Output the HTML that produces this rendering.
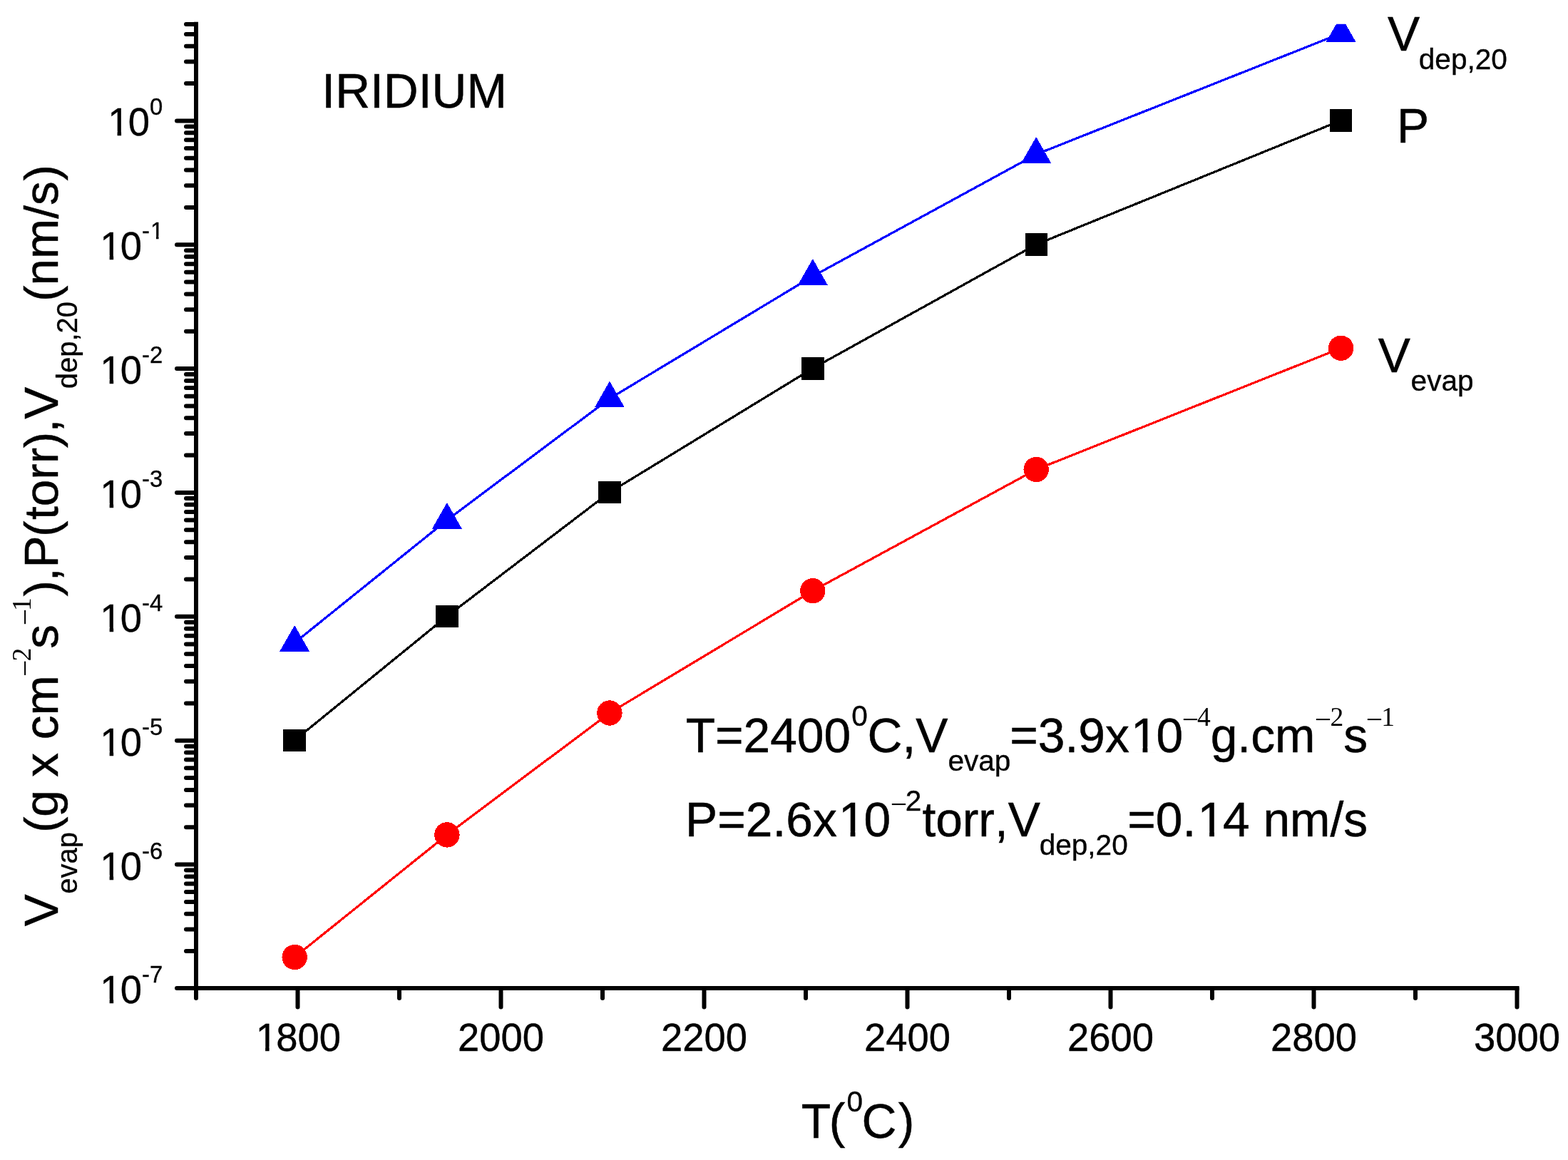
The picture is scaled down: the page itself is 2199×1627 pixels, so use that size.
<!DOCTYPE html><html><head><meta charset="utf-8"><title>Iridium</title><style>html,body{margin:0;padding:0;background:#fff;overflow:hidden}svg{display:block}text{font-family:"Liberation Sans",Arial,sans-serif;fill:#000;font-kerning:none;white-space:pre}.se{font-family:"Liberation Serif","Times New Roman",serif}.b{stroke:#000;stroke-width:0.5px}.m{stroke:#000;stroke-width:0.35px}.t{stroke:#000;stroke-width:0.4px}.t tspan{stroke-width:0.3px}</style></head><body>
<svg width="2199" height="1627" viewBox="0 0 2199 1627">
<rect width="2199" height="1627" fill="#fff"/>
<defs><clipPath id="c"><rect x="275.0" y="33.7" width="1875.5" height="1352.3"/></clipPath></defs>
<g clip-path="url(#c)" shape-rendering="crispEdges">
<polyline points="413.2,901.5 626.9,729.5 854.9,559.1 1139.8,387.5 1453.2,216.5 1880.6,46.8" fill="none" stroke="#0000ff" stroke-width="3.2"/>
<polygon points="392.2,913.8 434.2,913.8 413.2,877.0" fill="#0000ff"/>
<polygon points="605.9,741.8 647.9,741.8 626.9,705.0" fill="#0000ff"/>
<polygon points="833.9,571.4 875.9,571.4 854.9,534.6" fill="#0000ff"/>
<polygon points="1118.8,399.8 1160.8,399.8 1139.8,363.0" fill="#0000ff"/>
<polygon points="1432.2,228.8 1474.2,228.8 1453.2,192.0" fill="#0000ff"/>
<polygon points="1859.6,59.1 1901.6,59.1 1880.6,22.3" fill="#0000ff"/>
<polyline points="413.2,1038.3 626.9,864.4 854.9,690.6 1139.8,516.7 1453.2,342.9 1880.6,169.0" fill="none" stroke="#000" stroke-width="3.2"/>
<rect x="397.4" y="1022.6" width="31.5" height="31.5" fill="#000"/>
<rect x="611.2" y="848.7" width="31.5" height="31.5" fill="#000"/>
<rect x="839.1" y="674.8" width="31.5" height="31.5" fill="#000"/>
<rect x="1124.0" y="501.0" width="31.5" height="31.5" fill="#000"/>
<rect x="1437.5" y="327.1" width="31.5" height="31.5" fill="#000"/>
<rect x="1864.9" y="153.2" width="31.5" height="31.5" fill="#000"/>
<polyline points="413.2,1342.5 626.9,1170.9 854.9,1000.0 1139.8,828.7 1453.2,658.5 1880.6,488.3" fill="none" stroke="#ff0000" stroke-width="3.2"/>
<circle cx="413.2" cy="1342.5" r="17.7" fill="#ff0000"/>
<circle cx="626.9" cy="1170.9" r="17.7" fill="#ff0000"/>
<circle cx="854.9" cy="1000.0" r="17.7" fill="#ff0000"/>
<circle cx="1139.8" cy="828.7" r="17.7" fill="#ff0000"/>
<circle cx="1453.2" cy="658.5" r="17.7" fill="#ff0000"/>
<circle cx="1880.6" cy="488.3" r="17.7" fill="#ff0000"/>
</g>
<g stroke="#000" stroke-width="6" stroke-linecap="butt" fill="none">
<line x1="275.0" y1="30.8" x2="275.0" y2="1389.0"/>
<line x1="272.0" y1="1386.0" x2="2130.5" y2="1386.0"/>
</g>
<g stroke="#000" stroke-width="6" stroke-linecap="round">
<line x1="248" y1="1386.0" x2="275.0" y2="1386.0"/>
<line x1="261" y1="1334.1" x2="275.0" y2="1334.1"/>
<line x1="261" y1="1303.5" x2="275.0" y2="1303.5"/>
<line x1="261" y1="1281.7" x2="275.0" y2="1281.7"/>
<line x1="261" y1="1264.9" x2="275.0" y2="1264.9"/>
<line x1="261" y1="1251.1" x2="275.0" y2="1251.1"/>
<line x1="261" y1="1239.5" x2="275.0" y2="1239.5"/>
<line x1="261" y1="1229.4" x2="275.0" y2="1229.4"/>
<line x1="261" y1="1220.5" x2="275.0" y2="1220.5"/>
<line x1="248" y1="1212.6" x2="275.0" y2="1212.6"/>
<line x1="261" y1="1160.2" x2="275.0" y2="1160.2"/>
<line x1="261" y1="1129.6" x2="275.0" y2="1129.6"/>
<line x1="261" y1="1107.9" x2="275.0" y2="1107.9"/>
<line x1="261" y1="1091.0" x2="275.0" y2="1091.0"/>
<line x1="261" y1="1077.3" x2="275.0" y2="1077.3"/>
<line x1="261" y1="1065.6" x2="275.0" y2="1065.6"/>
<line x1="261" y1="1055.5" x2="275.0" y2="1055.5"/>
<line x1="261" y1="1046.7" x2="275.0" y2="1046.7"/>
<line x1="248" y1="1038.7" x2="275.0" y2="1038.7"/>
<line x1="261" y1="986.4" x2="275.0" y2="986.4"/>
<line x1="261" y1="955.7" x2="275.0" y2="955.7"/>
<line x1="261" y1="934.0" x2="275.0" y2="934.0"/>
<line x1="261" y1="917.2" x2="275.0" y2="917.2"/>
<line x1="261" y1="903.4" x2="275.0" y2="903.4"/>
<line x1="261" y1="891.8" x2="275.0" y2="891.8"/>
<line x1="261" y1="881.7" x2="275.0" y2="881.7"/>
<line x1="261" y1="872.8" x2="275.0" y2="872.8"/>
<line x1="248" y1="864.8" x2="275.0" y2="864.8"/>
<line x1="261" y1="812.5" x2="275.0" y2="812.5"/>
<line x1="261" y1="781.9" x2="275.0" y2="781.9"/>
<line x1="261" y1="760.2" x2="275.0" y2="760.2"/>
<line x1="261" y1="743.3" x2="275.0" y2="743.3"/>
<line x1="261" y1="729.6" x2="275.0" y2="729.6"/>
<line x1="261" y1="717.9" x2="275.0" y2="717.9"/>
<line x1="261" y1="707.8" x2="275.0" y2="707.8"/>
<line x1="261" y1="698.9" x2="275.0" y2="698.9"/>
<line x1="248" y1="691.0" x2="275.0" y2="691.0"/>
<line x1="261" y1="638.6" x2="275.0" y2="638.6"/>
<line x1="261" y1="608.0" x2="275.0" y2="608.0"/>
<line x1="261" y1="586.3" x2="275.0" y2="586.3"/>
<line x1="261" y1="569.5" x2="275.0" y2="569.5"/>
<line x1="261" y1="555.7" x2="275.0" y2="555.7"/>
<line x1="261" y1="544.1" x2="275.0" y2="544.1"/>
<line x1="261" y1="534.0" x2="275.0" y2="534.0"/>
<line x1="261" y1="525.1" x2="275.0" y2="525.1"/>
<line x1="248" y1="517.1" x2="275.0" y2="517.1"/>
<line x1="261" y1="464.8" x2="275.0" y2="464.8"/>
<line x1="261" y1="434.2" x2="275.0" y2="434.2"/>
<line x1="261" y1="412.4" x2="275.0" y2="412.4"/>
<line x1="261" y1="395.6" x2="275.0" y2="395.6"/>
<line x1="261" y1="381.8" x2="275.0" y2="381.8"/>
<line x1="261" y1="370.2" x2="275.0" y2="370.2"/>
<line x1="261" y1="360.1" x2="275.0" y2="360.1"/>
<line x1="261" y1="351.2" x2="275.0" y2="351.2"/>
<line x1="248" y1="343.3" x2="275.0" y2="343.3"/>
<line x1="261" y1="290.9" x2="275.0" y2="290.9"/>
<line x1="261" y1="260.3" x2="275.0" y2="260.3"/>
<line x1="261" y1="238.6" x2="275.0" y2="238.6"/>
<line x1="261" y1="221.7" x2="275.0" y2="221.7"/>
<line x1="261" y1="208.0" x2="275.0" y2="208.0"/>
<line x1="261" y1="196.3" x2="275.0" y2="196.3"/>
<line x1="261" y1="186.2" x2="275.0" y2="186.2"/>
<line x1="261" y1="177.4" x2="275.0" y2="177.4"/>
<line x1="248" y1="169.4" x2="275.0" y2="169.4"/>
<line x1="261" y1="117.1" x2="275.0" y2="117.1"/>
<line x1="261" y1="86.4" x2="275.0" y2="86.4"/>
<line x1="261" y1="64.7" x2="275.0" y2="64.7"/>
<line x1="261" y1="47.9" x2="275.0" y2="47.9"/>
<line x1="261" y1="34.1" x2="275.0" y2="34.1"/>
<line x1="275.0" y1="1386.0" x2="275.0" y2="1400"/>
<line x1="417.5" y1="1386.0" x2="417.5" y2="1412.5"/>
<line x1="560.0" y1="1386.0" x2="560.0" y2="1400"/>
<line x1="702.5" y1="1386.0" x2="702.5" y2="1412.5"/>
<line x1="845.0" y1="1386.0" x2="845.0" y2="1400"/>
<line x1="987.5" y1="1386.0" x2="987.5" y2="1412.5"/>
<line x1="1130.0" y1="1386.0" x2="1130.0" y2="1400"/>
<line x1="1272.5" y1="1386.0" x2="1272.5" y2="1412.5"/>
<line x1="1415.0" y1="1386.0" x2="1415.0" y2="1400"/>
<line x1="1557.5" y1="1386.0" x2="1557.5" y2="1412.5"/>
<line x1="1700.0" y1="1386.0" x2="1700.0" y2="1400"/>
<line x1="1842.5" y1="1386.0" x2="1842.5" y2="1412.5"/>
<line x1="1985.0" y1="1386.0" x2="1985.0" y2="1400"/>
<line x1="2127.5" y1="1386.0" x2="2127.5" y2="1412.5"/>
</g>
<g transform="translate(356.99,1474.4) scale(1,1.03)"><text font-size="54.4" class="t" dx="1.78 -1.78 0.00 0.00">1800</text><rect x="4.92" y="-6.06" width="10.19" height="7.46" fill="#fff"/><rect x="20.62" y="-6.06" width="9.76" height="7.46" fill="#fff"/></g>
<g transform="translate(641.99,1474.4) scale(1,1.03)"><text font-size="54.4" class="t">2000</text></g>
<g transform="translate(926.99,1474.4) scale(1,1.03)"><text font-size="54.4" class="t">2200</text></g>
<g transform="translate(1211.99,1474.4) scale(1,1.03)"><text font-size="54.4" class="t">2400</text></g>
<g transform="translate(1496.99,1474.4) scale(1,1.03)"><text font-size="54.4" class="t">2600</text></g>
<g transform="translate(1781.99,1474.4) scale(1,1.03)"><text font-size="54.4" class="t">2800</text></g>
<g transform="translate(2066.99,1474.4) scale(1,1.03)"><text font-size="54.4" class="t">3000</text></g>
<g transform="translate(138.53,1407.42) scale(1,1.03)"><text font-size="54.4" class="t" dx="1.78 -1.78">10</text><rect x="4.92" y="-6.06" width="10.19" height="7.46" fill="#fff"/><rect x="20.62" y="-6.06" width="9.76" height="7.46" fill="#fff"/></g>
<g transform="translate(199.04,1378.42) scale(1,1.03)"><text font-size="32.8" class="m">-7</text></g>
<g transform="translate(138.53,1233.56) scale(1,1.03)"><text font-size="54.4" class="t" dx="1.78 -1.78">10</text><rect x="4.92" y="-6.06" width="10.19" height="7.46" fill="#fff"/><rect x="20.62" y="-6.06" width="9.76" height="7.46" fill="#fff"/></g>
<g transform="translate(199.04,1204.56) scale(1,1.03)"><text font-size="32.8" class="m">-6</text></g>
<g transform="translate(138.53,1059.70) scale(1,1.03)"><text font-size="54.4" class="t" dx="1.78 -1.78">10</text><rect x="4.92" y="-6.06" width="10.19" height="7.46" fill="#fff"/><rect x="20.62" y="-6.06" width="9.76" height="7.46" fill="#fff"/></g>
<g transform="translate(199.04,1030.70) scale(1,1.03)"><text font-size="32.8" class="m">-5</text></g>
<g transform="translate(138.53,885.84) scale(1,1.03)"><text font-size="54.4" class="t" dx="1.78 -1.78">10</text><rect x="4.92" y="-6.06" width="10.19" height="7.46" fill="#fff"/><rect x="20.62" y="-6.06" width="9.76" height="7.46" fill="#fff"/></g>
<g transform="translate(199.04,856.84) scale(1,1.03)"><text font-size="32.8" class="m">-4</text></g>
<g transform="translate(138.53,711.98) scale(1,1.03)"><text font-size="54.4" class="t" dx="1.78 -1.78">10</text><rect x="4.92" y="-6.06" width="10.19" height="7.46" fill="#fff"/><rect x="20.62" y="-6.06" width="9.76" height="7.46" fill="#fff"/></g>
<g transform="translate(199.04,682.98) scale(1,1.03)"><text font-size="32.8" class="m">-3</text></g>
<g transform="translate(138.53,538.12) scale(1,1.03)"><text font-size="54.4" class="t" dx="1.78 -1.78">10</text><rect x="4.92" y="-6.06" width="10.19" height="7.46" fill="#fff"/><rect x="20.62" y="-6.06" width="9.76" height="7.46" fill="#fff"/></g>
<g transform="translate(199.04,509.12) scale(1,1.03)"><text font-size="32.8" class="m">-2</text></g>
<g transform="translate(138.53,364.26) scale(1,1.03)"><text font-size="54.4" class="t" dx="1.78 -1.78">10</text><rect x="4.92" y="-6.06" width="10.19" height="7.46" fill="#fff"/><rect x="20.62" y="-6.06" width="9.76" height="7.46" fill="#fff"/></g>
<g transform="translate(199.04,335.26) scale(1,1.03)"><text font-size="32.8" class="m" dx="0.00 1.07">-1</text><rect x="13.52" y="-4.43" width="6.40" height="5.80" fill="#fff"/><rect x="23.47" y="-4.43" width="6.14" height="5.80" fill="#fff"/></g>
<g transform="translate(149.45,190.40) scale(1,1.03)"><text font-size="54.4" class="t" dx="1.78 -1.78">10</text><rect x="4.92" y="-6.06" width="10.19" height="7.46" fill="#fff"/><rect x="20.62" y="-6.06" width="9.76" height="7.46" fill="#fff"/></g>
<g transform="translate(209.96,161.40) scale(1,1.03)"><text font-size="32.8" class="m">0</text></g>
<text x="1123.74" y="1595.70" font-size="67.7" class="b">T</text>
<text x="1162.83" y="1595.70" font-size="67.7" class="b">(</text>
<text x="1187.46" y="1558.50" font-size="40.6" class="m">0</text>
<text x="1208.62" y="1595.70" font-size="67.7" class="b">C</text>
<text x="1259.78" y="1595.70" font-size="67.7" class="b">)</text>
<text x="451.36" y="151.30" font-size="67.7" class="b">IRIDIUM</text>
<text x="1945.97" y="71.00" font-size="67.7" class="b">V</text>
<text x="1989.80" y="96.80" font-size="40.6" class="m">dep,20</text>
<text x="1959.03" y="200.30" font-size="67.7" class="b">P</text>
<text x="1932.82" y="521.60" font-size="67.7" class="b">V</text>
<text x="1978.62" y="547.60" font-size="40.6" class="m">evap</text>
<text x="961.69" y="1054.50" font-size="67.7" class="b">T=2400</text>
<text x="1194.21" y="1017.60" font-size="40.6" class="m">0</text>
<text x="1216.50" y="1054.50" font-size="67.7" class="b">C,V</text>
<text x="1329.42" y="1080.50" font-size="40.6" class="m">evap</text>
<g transform="translate(1416.22,1054.50)"><text font-size="67.7" class="b" dx="0.00 0.00 0.00 0.00 0.00 2.21 -2.21">=3.9x10</text><rect x="173.82" y="-7.11" width="12.52" height="8.56" fill="#fff"/><rect x="193.12" y="-7.11" width="11.99" height="8.56" fill="#fff"/></g>
<text x="1657.78" y="1022.70" font-size="41.5" class="se">−</text>
<text x="1678.95" y="1017.60" font-size="37.5" class="se">4</text>
<text x="1697.71" y="1054.50" font-size="67.7" class="b">g.cm</text>
<text x="1843.78" y="1022.70" font-size="41.5" class="se">−</text>
<text x="1865.59" y="1017.60" font-size="37.5" class="se">2</text>
<text x="1884.21" y="1054.50" font-size="67.7" class="b">s</text>
<text x="1915.78" y="1022.70" font-size="41.5" class="se">−</text>
<text x="1937.25" y="1017.60" font-size="37.5" class="se">1</text>
<g transform="translate(961.12,1173.40)"><text font-size="67.7" class="b" dx="0.00 0.00 0.00 0.00 0.00 0.00 2.21 -2.21">P=2.6x10</text><rect x="218.98" y="-7.11" width="12.52" height="8.56" fill="#fff"/><rect x="238.28" y="-7.11" width="11.99" height="8.56" fill="#fff"/></g>
<text x="1248.78" y="1141.70" font-size="41.5" class="se">−</text>
<text x="1269.71" y="1136.60" font-size="40.6" class="m">2</text>
<text x="1293.38" y="1173.40" font-size="67.7" class="b">torr,V</text>
<text x="1457.65" y="1199.40" font-size="40.6" class="m">dep,20</text>
<g transform="translate(1581.31,1173.40)"><text font-size="67.7" class="b" dx="0.00 0.00 0.00 2.21 -2.21 0.00 0.00 0.00 0.00 0.00">=0.14 nm/s</text><rect x="102.32" y="-7.11" width="12.52" height="8.56" fill="#fff"/><rect x="121.62" y="-7.11" width="11.99" height="8.56" fill="#fff"/></g>
<text transform="translate(80.50,1299.18) rotate(-90)" font-size="67.4" class="b">V</text>
<text transform="translate(107.80,1253.73) rotate(-90)" font-size="40.0" class="m">evap</text>
<text transform="translate(80.50,1167.91) rotate(-90)" font-size="67.4" class="b">(</text>
<text transform="translate(80.50,1145.83) rotate(-90)" font-size="67.4" class="b">g x cm</text>
<text transform="translate(48.50,948.97) rotate(-90)" font-size="41.5" class="se">−</text>
<text transform="translate(43.40,927.51) rotate(-90)" font-size="37.5" class="se">2</text>
<text transform="translate(80.50,909.87) rotate(-90)" font-size="67.4" class="b">s</text>
<text transform="translate(48.50,877.27) rotate(-90)" font-size="41.5" class="se">−</text>
<text transform="translate(43.40,857.05) rotate(-90)" font-size="37.5" class="se">1</text>
<text transform="translate(80.50,836.58) rotate(-90)" font-size="67.4" class="b">)</text>
<text transform="translate(80.50,815.14) rotate(-90)" font-size="67.4" class="b">,P</text>
<text transform="translate(80.50,753.06) rotate(-90)" font-size="67.4" class="b">(</text>
<text transform="translate(80.50,728.95) rotate(-90)" font-size="67.4" class="b">torr</text>
<text transform="translate(80.50,628.28) rotate(-90)" font-size="67.4" class="b">)</text>
<text transform="translate(80.50,606.42) rotate(-90)" font-size="67.4" class="b">,V</text>
<text transform="translate(107.80,545.28) rotate(-90)" font-size="40.0" class="m">dep,20</text>
<text transform="translate(80.50,423.06) rotate(-90)" font-size="67.4" class="b">(</text>
<text transform="translate(80.50,400.45) rotate(-90)" font-size="67.4" class="b">nm/s</text>
<text transform="translate(80.50,253.43) rotate(-90)" font-size="67.4" class="b">)</text>
</svg></body></html>
